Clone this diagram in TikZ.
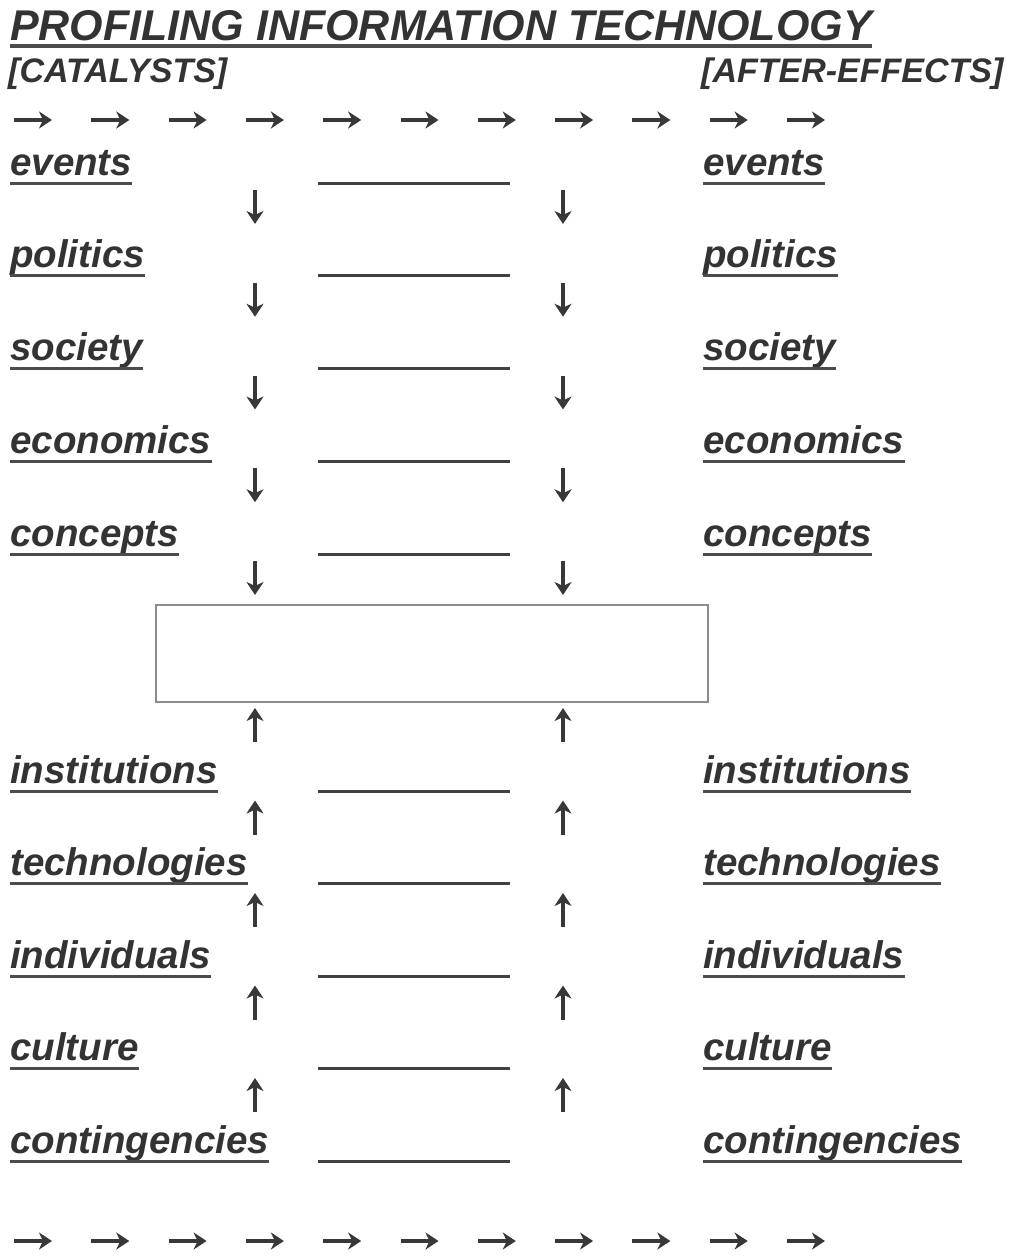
\documentclass[tikz,border=0pt]{standalone}
\usepackage{fontspec}
\setmainfont{Liberation Sans}
\usetikzlibrary{arrows.meta}
\begin{document}
\begin{tikzpicture}[x=1pt,y=-1pt,
  title/.style={anchor=base west,inner sep=0pt,text=black!80,
    font=\fontsize{43}{45}\selectfont\bfseries\itshape},
  head/.style={anchor=base west,inner sep=0pt,text=black!80,
    font=\fontsize{34}{36}\selectfont\bfseries\itshape},
  lab/.style={anchor=base west,inner sep=0pt,text=black!80,
    font=\fontsize{38.5}{40}\selectfont\bfseries\itshape},
  uline/.style={draw=black!70,line width=3pt},
  blank/.style={draw=black!75,line width=3pt},
  flow/.style={draw=black!78,line width=3.6pt,
    -{Stealth[length=13pt,width=17pt,inset=4pt]}},
  centrebox/.style={draw=black!45,line width=2.5pt,minimum width=552pt,
    minimum height=97pt,inner sep=0pt}]
\useasboundingbox (0,0) rectangle (1010,1256);

% heading
\node[title] (title) at (10,40) {PROFILING INFORMATION TECHNOLOGY};
\draw[draw=black!70,line width=4pt] ([yshift=-6pt]title.base west) -- ([yshift=-6pt]title.base east);
\node[head] (cat) at (8,82) {[CATALYSTS]};
\node[head] (aft) at (701,82) {[AFTER-EFFECTS]};

% rows of flow arrows, top and bottom
\foreach \k in {0,...,10} {
  \coordinate (ts\k) at ({14+77.3*\k},120);
  \coordinate (te\k) at ({52+77.3*\k},120);
  \draw[flow] (ts\k) -- (te\k);
  \coordinate (bs\k) at ({14+77.3*\k},1241);
  \coordinate (be\k) at ({52+77.3*\k},1241);
  \draw[flow] (bs\k) -- (be\k);
}

% upper rows: label, blank line, label
\foreach \t [count=\i] in {events,politics,society,economics,concepts} {
  \pgfmathsetmacro{\yy}{175+92.75*(\i-1)}
  \node[lab] (L\i) at (10,\yy) {\t};
  \node[lab] (R\i) at (703,\yy) {\t};
  \draw[uline] ([yshift=-8pt]L\i.base west) -- ([yshift=-8pt]L\i.base east);
  \draw[uline] ([yshift=-8pt]R\i.base west) -- ([yshift=-8pt]R\i.base east);
  \coordinate (B\i a) at (318,\yy+8);
  \coordinate (B\i b) at (510,\yy+8);
  \draw[blank] (B\i a) -- (B\i b);
  \coordinate (dl\i s) at (255,\yy+15);
  \coordinate (dl\i e) at (255,\yy+49);
  \coordinate (dr\i s) at (563,\yy+15);
  \coordinate (dr\i e) at (563,\yy+49);
  \draw[flow] (dl\i s) -- (dl\i e);
  \draw[flow] (dr\i s) -- (dr\i e);
}

% central box
\node[centrebox] (core) at (432,653.5) {};

% lower rows
\foreach \t [count=\i] in {institutions,technologies,individuals,culture,contingencies} {
  \pgfmathsetmacro{\yy}{783+92.5*(\i-1)}
  \node[lab] (M\i) at (10,\yy) {\t};
  \node[lab] (N\i) at (703,\yy) {\t};
  \draw[uline] ([yshift=-8pt]M\i.base west) -- ([yshift=-8pt]M\i.base east);
  \draw[uline] ([yshift=-8pt]N\i.base west) -- ([yshift=-8pt]N\i.base east);
  \coordinate (C\i a) at (318,\yy+8);
  \coordinate (C\i b) at (510,\yy+8);
  \draw[blank] (C\i a) -- (C\i b);
  \coordinate (ul\i s) at (255,\yy-41);
  \coordinate (ul\i e) at (255,\yy-75);
  \coordinate (ur\i s) at (563,\yy-41);
  \coordinate (ur\i e) at (563,\yy-75);
  \draw[flow] (ul\i s) -- (ul\i e);
  \draw[flow] (ur\i s) -- (ur\i e);
}
\end{tikzpicture}
\end{document}
